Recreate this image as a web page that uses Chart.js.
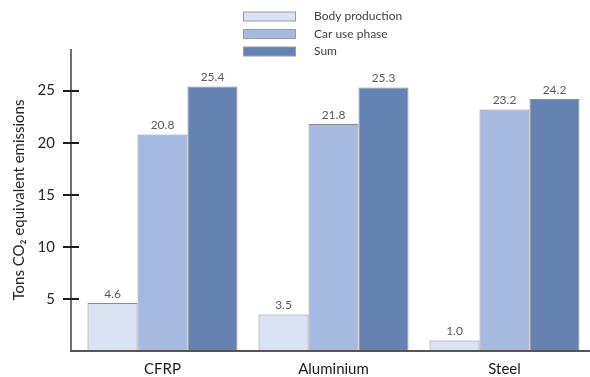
<!DOCTYPE html>
<html>
<head>
<meta charset="utf-8">
<script src="https://cdn.jsdelivr.net/npm/chart.js@4"></script>
<style>
  html, body { margin: 0; padding: 0; background: #fff; overflow: hidden; }
  canvas { display: block; }
</style>
</head>
<body>
<canvas id="c" width="590" height="377"></canvas>
<script>
// categories and series
const categories = ["CFRP", "Aluminium", "Steel"];
const bodyProduction = [4.6, 3.5, 1.0];
const carUsePhase = [20.8, 21.8, 23.2];
const sumValues = [25.4, 25.3, 24.2];
const seriesNames = ["Body production", "Car use phase", "Sum"];
const yTicks = [5, 10, 15, 20, 25];

const colors = ["#dae3f3", "#a6b9e1", "#6582b3"];
const FONT = "Lato, 'Liberation Sans', sans-serif";

// axes drawn by hand: y axis sits a bit left of the bars, ticks cross the line
const axesPlugin = {
  id: "axes",
  afterDraw(chart) {
    const ctx = chart.ctx;
    const area = chart.chartArea;
    const y = chart.scales.y;
    const axisX = area.left - 6;
    ctx.save();
    ctx.strokeStyle = "#6f6f6f";
    ctx.lineWidth = 2;
    ctx.beginPath();
    ctx.moveTo(axisX, area.top);
    ctx.lineTo(axisX, area.bottom);
    ctx.stroke();
    ctx.strokeStyle = "#1a1a1a";
    for (const v of yTicks) {
      const py = Math.round(y.getPixelForValue(v));
      ctx.beginPath();
      ctx.moveTo(axisX - 8, py);
      ctx.lineTo(axisX + 8, py);
      ctx.stroke();
    }
    ctx.strokeStyle = "#555";
    ctx.beginPath();
    ctx.moveTo(axisX - 1, area.bottom);
    ctx.lineTo(area.right, area.bottom);
    ctx.stroke();

    // value labels above the bars
    ctx.font = "12px " + FONT;
    ctx.fillStyle = "#595959";
    ctx.textAlign = "center";
    ctx.textBaseline = "bottom";
    chart.data.datasets.forEach((ds, i) => {
      chart.getDatasetMeta(i).data.forEach((bar, j) => {
        ctx.fillText(ds.data[j].toFixed(1), bar.x, bar.y - 3);
      });
    });

    // legend, stacked vertically
    ctx.textAlign = "left";
    ctx.textBaseline = "middle";
    ctx.lineWidth = 1;
    chart.data.datasets.forEach((ds, i) => {
      const cy = 16.5 + i * 17.5;
      ctx.fillStyle = ds.backgroundColor;
      ctx.fillRect(243, cy - 4.5, 52, 9);
      ctx.strokeStyle = "#9a9a9a";
      ctx.strokeRect(243.5, cy - 4.5, 52, 9);
      ctx.fillStyle = "#404040";
      ctx.font = "12px " + FONT;
      ctx.fillText(ds.label, 314, cy);
    });
    ctx.restore();
  }
};

new Chart(document.getElementById("c").getContext("2d"), {
  type: "bar",
  data: {
    labels: categories,
    datasets: [
      { label: seriesNames[0], data: bodyProduction, backgroundColor: colors[0] },
      { label: seriesNames[1], data: carUsePhase, backgroundColor: colors[1] },
      { label: seriesNames[2], data: sumValues, backgroundColor: colors[2] }
    ].map(d => Object.assign(d, {
      borderColor: "#8c8c8c",
      borderWidth: 1,
      categoryPercentage: 0.877,
      barPercentage: 1
    }))
  },
  options: {
    responsive: false,
    animation: false,
    layout: { padding: { top: 49, left: 0, right: 0, bottom: 0 } },
    plugins: {
      legend: { display: false },
      tooltip: { enabled: false },
      title: { display: false }
    },
    scales: {
      x: {
        afterFit: (s) => { s.height = 26; },
        grid: { display: false, drawTicks: false },
        border: { display: false },
        ticks: {
          color: "#1a1a1a",
          padding: 9,
          font: { family: FONT, size: 15 }
        }
      },
      y: {
        min: 0,
        max: 29,
        afterFit: (s) => {
          s.width = 77;
          // the big tick padding would otherwise push the plot up
          s.paddingTop = 0;
          s.paddingBottom = 0;
        },
        grid: { display: false, drawTicks: false },
        border: { display: false },
        title: {
          display: true,
          text: "Tons CO₂ equivalent emissions",
          color: "#262626",
          padding: { top: 10, bottom: 0 },
          font: { family: FONT, size: 15 }
        },
        ticks: {
          stepSize: 5,
          padding: 22,
          color: "#262626",
          font: { family: FONT, size: 15 },
          callback: (v) => (yTicks.includes(v) ? String(v) : "")
        }
      }
    }
  },
  plugins: [axesPlugin]
});
</script>
</body>
</html>
